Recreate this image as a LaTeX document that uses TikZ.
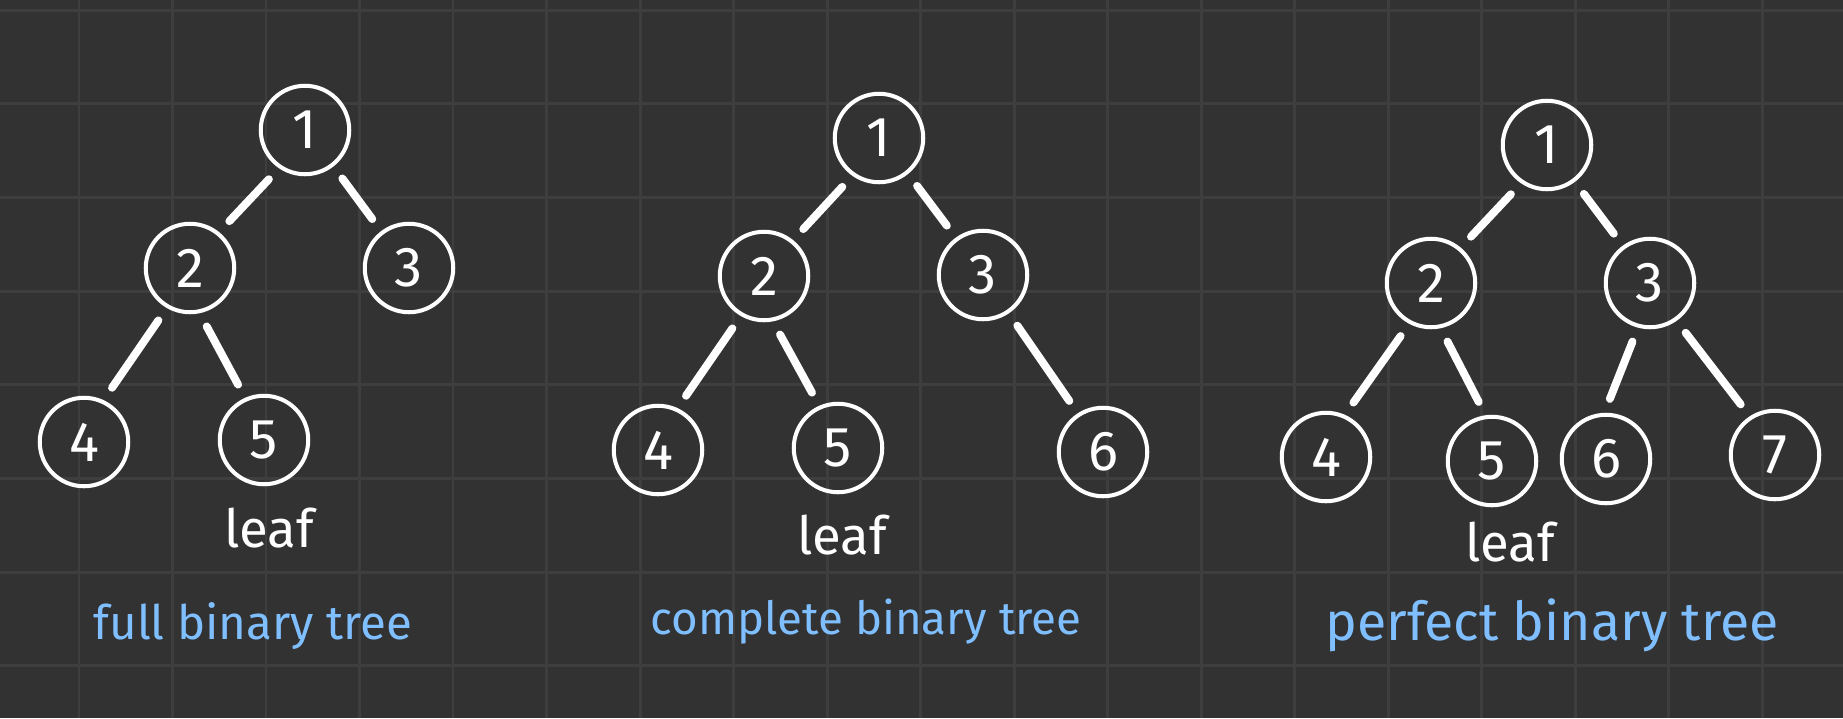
\documentclass[tikz,border=0pt]{standalone}
\usepackage{fontspec}
\setmainfont{Fira Sans}
\usetikzlibrary{positioning}
\definecolor{board}{HTML}{323232}
\definecolor{gridgray}{HTML}{3E3E3E}
\definecolor{labelblue}{HTML}{80BFFF}

\begin{document}
\begin{tikzpicture}[x=0.02cm,y=-0.02cm,
	treenode/.style={circle,draw=white,line width=2.3pt,minimum size=1.77cm,inner sep=0pt,text=white,font=\fontsize{32}{32}\selectfont},
	branch/.style={white,line width=4.5pt,line cap=round,shorten >=8.5pt,shorten <=8.5pt},
	leaflabel/.style={text=white,anchor=base,font=\fontsize{30}{30}\selectfont},
	treename/.style={text=labelblue,anchor=base,font=\fontsize{28}{28}\selectfont}]
	\useasboundingbox (0,0) rectangle (1843,718);
	\fill[board] (0,0) rectangle (1843,718);
	\foreach \i in {0,...,18}
		\draw[gridgray,line width=1.7pt] ({79+93.5*\i},0) -- ({79+93.5*\i},718);
	\foreach \j in {0,...,7}
		\draw[gridgray,line width=1.7pt] (0,{10+93.7*\j}) -- (1843,{10+93.7*\j});

	% full binary tree
	\node[treenode] (f1) at (305,130) {1};
	\node[treenode] (f2) at (190,268) {2};
	\node[treenode] (f3) at (409,268) {3};
	\node[treenode] (f4) at (84,442) {4};
	\node[treenode] (f5) at (264,440) {5};
	\draw[branch] (f1.236) -- (f2.51);
	\draw[branch] (f1.308) -- (f3.127);
	\draw[branch] (f2.240) -- (f4.65);
	\draw[branch] (f2.282) -- (f5.114);
	\node[leaflabel] (fleaf) at (269,547) {leaf};
	\node[treename,font=\fontsize{27}{27}\selectfont] (fname) at (253,639) {full binary tree};

	% complete binary tree
	\node[treenode] (c1) at (879,138) {1};
	\node[treenode] (c2) at (764,276) {2};
	\node[treenode] (c3) at (983,275) {3};
	\node[treenode] (c4) at (658,450) {4};
	\node[treenode] (c5) at (838,448) {5};
	\node[treenode] (c6) at (1103,452) {6};
	\draw[branch] (c1.235) -- (c2.51);
	\draw[branch] (c1.309) -- (c3.126);
	\draw[branch] (c2.240) -- (c4.65);
	\draw[branch] (c2.281) -- (c5.114);
	\draw[branch] (c3.304) -- (c6.123);
	\node[leaflabel] (cleaf) at (842,554) {leaf};
	\node[treename,font=\fontsize{26}{26}\selectfont] (cname) at (866,634) {complete binary tree};

	% perfect binary tree
	\node[treenode] (p1) at (1547,145) {1};
	\node[treenode] (p2) at (1431,283) {2};
	\node[treenode] (p3) at (1650,283) {3};
	\node[treenode] (p4) at (1326,457) {4};
	\node[treenode] (p5) at (1492,461) {5};
	\node[treenode] (p6) at (1606,459) {6};
	\node[treenode] (p7) at (1775,455) {7};
	\draw[branch] (p1.236) -- (p2.50);
	\draw[branch] (p1.307) -- (p3.126);
	\draw[branch] (p2.242) -- (p4.66);
	\draw[branch] (p2.282) -- (p5.98);
	\draw[branch] (p3.255) -- (p6.92);
	\draw[branch] (p3.305) -- (p7.123);
	\node[leaflabel] (pleaf) at (1510,561) {leaf};
	\node[treename,font=\fontsize{30.5}{30.5}\selectfont] (pname) at (1552,640) {perfect binary tree};
\end{tikzpicture}
\end{document}
